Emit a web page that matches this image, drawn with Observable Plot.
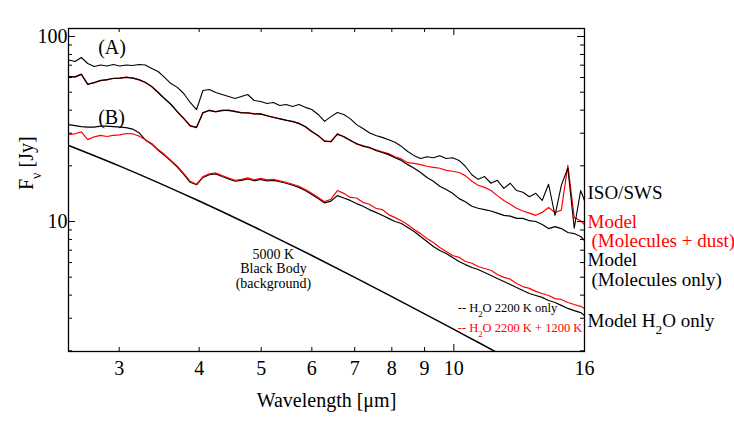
<!DOCTYPE html>
<html><head><meta charset="utf-8">
<script src="https://cdn.jsdelivr.net/npm/d3@7"></script>
<script src="https://cdn.jsdelivr.net/npm/@observablehq/plot@0.6"></script>
<style>body{margin:0;background:#fff;}</style>
</head><body><div id="chart"></div>
<script>
// Wavelength grid (μm)
const wavelength = [2.500,2.559,2.618,2.679,2.742,2.805,2.871,2.938,3.006,3.076,
 3.148,3.221,3.296,3.373,3.451,3.532,3.614,3.698,3.784,3.873,
 3.963,4.055,4.150,4.246,4.345,4.446,4.550,4.656,4.764,4.875,
 4.989,5.105,5.224,5.346,5.470,5.598,5.728,5.861,5.998,6.138,
 6.281,6.427,6.577,6.730,6.887,7.047,7.211,7.379,7.551,7.727,
 7.907,8.091,8.279,8.472,8.670,8.871,9.078,9.290,9.506,9.727,
 9.954,10.19,10.42,10.67,10.91,11.17,11.43,11.69,11.97,12.25,
 12.53,12.82,13.12,13.43,13.74,14.06,14.39,14.72,15.07,15.42,
 15.78,16.0];

// (A) ISO/SWS observed spectrum (Jy)
const isoSws = [74.7,73.3,77.0,71.5,68.8,70.1,69.3,70.6,69.3,70.1,
 69.7,70.6,70.1,67.1,64.7,60.1,55.7,53.1,49.2,44.0,
 40.3,51.1,51.7,49.8,48.6,47.4,46.2,47.4,48.6,45.1,
 44.5,43.4,44.0,42.4,42.9,41.9,42.9,41.4,40.3,37.9,
 34.8,36.9,38.8,37.9,36.0,33.4,31.8,30.2,29.2,28.5,
 27.7,26.8,25.5,23.9,22.7,21.9,22.4,22.1,22.7,21.9,
 22.1,21.4,19.9,17.9,16.9,17.5,16.1,16.7,15.1,16.1,
 14.7,14.4,13.6,14.2,13.0,15.9,10.8,15.7,19.4,9.2,
 14.7,13.0];

// (A) Model (Molecules + dust) - red
const modelDust = [60.9,60.3,62.6,55.3,56.2,57.9,58.3,59.5,59.4,60.3,
 59.8,58.3,56.6,53.5,50.0,46.0,43.1,39.1,36.2,32.8,
 32.4,38.6,40.0,39.1,40.0,39.8,39.5,38.6,38.8,38.1,
 38.3,37.2,36.7,35.8,35.4,34.6,34.0,32.4,30.8,29.0,
 27.3,26.9,29.9,28.6,27.6,26.2,25.7,25.0,24.4,23.8,
 23.3,22.4,21.8,20.8,20.6,20.3,19.9,19.6,19.4,18.9,
 18.7,18.4,17.7,16.5,15.7,15.3,14.7,13.8,13.0,12.4,
 11.8,11.4,11.1,10.8,11.2,11.9,11.2,11.5,20.1,10.5,
 10.1,9.63];

// (A) Model (Molecules only) - black
const modelMolecules = [60.8,60.5,62.4,55.1,56.4,57.8,58.5,59.3,59.6,60.1,
 59.6,58.5,56.4,53.7,49.8,46.2,42.9,39.3,36.0,33.0,
 32.2,38.8,39.8,39.3,39.8,40.0,39.3,38.8,38.6,38.3,
 38.1,37.4,36.5,36.0,35.2,34.8,33.8,32.6,30.6,29.2,
 27.1,27.1,29.6,28.8,27.4,26.4,25.5,25.2,24.2,23.6,
 23.0,22.1,21.4,20.3,19.4,18.4,17.3,16.5,15.5,14.9,
 14.2,13.3,12.8,12.1,11.8,11.6,11.4,11.1,10.8,10.7,
 10.4,10.4,10.1,10.0,9.63,9.16,9.39,9.16,8.72,8.61,
 8.30,7.89];

// (B) H2O 2200 K only - black
const h2o2200 = [33.4,33.0,32.6,32.4,32.4,32.8,32.8,32.6,32.4,32.2,
 31.6,30.2,27.6,26.2,24.3,22.8,21.2,19.7,18.0,16.3,
 15.8,17.3,17.9,18.1,17.5,17.0,16.5,16.7,17.0,16.6,
 16.9,16.6,16.7,16.4,16.1,15.7,15.3,14.7,14.0,13.3,
 12.6,12.9,13.8,13.4,13.0,12.5,12.1,11.6,11.2,10.8,
 10.4,10.0,9.75,9.27,8.83,8.30,7.80,7.33,6.97,6.72,
 6.39,6.08,5.85,5.64,5.50,5.30,5.11,4.92,4.74,4.57,
 4.40,4.24,4.08,3.98,3.89,3.74,3.65,3.52,3.39,3.30,
 3.22,3.10];

// (B) H2O 2200 K + 1200 K - red
const h2o2200_1200 = [29.6,29.8,30.5,27.7,28.7,29.2,28.8,29.2,29.4,29.9,
 29.8,29.0,27.7,26.4,24.5,23.0,21.4,19.9,18.2,16.5,
 15.9,17.5,18.1,18.3,17.7,17.2,16.7,16.9,17.2,16.8,
 17.1,16.8,16.9,16.6,16.3,15.9,15.5,14.9,14.2,13.5,
 12.8,13.2,14.7,14.2,13.5,13.4,12.7,12.4,11.8,11.6,
 10.9,10.5,10.1,9.6,9.05,8.6,8.10,7.7,7.24,6.88,
 6.55,6.4,6.08,5.95,5.71,5.57,5.45,5.17,4.99,4.88,
 4.62,4.45,4.35,4.19,4.08,3.98,3.83,3.79,3.65,3.56,
 3.48,3.39];

// 5000 K black body (background)
const bbWavelength = [2.5,3,4,5,6,7,8,9,10,11,12];
const bbFlux = [25.8,20.0,12.9,8.95,6.55,4.99,3.93,3.17,2.61,2.19,1.86];

// Axis ticks
const xTickLabels = [3,4,5,6,7,8,9,10,16];
const xMinorTicks = [3,4,5,6,7,8,9];
const xMajorTicks = [10];
const yTickLabels = [10,100];
const yMinorTicks = [2,3,4,5,6,7,8,9,20,30,40,50,60,70,80,90];
const yMajorTicks = [10,100];

const W = 734, H = 436, mL = 68, mR = 150, mT = 28, mB = 85;
const plotW = W - mL - mR, plotH = H - mT - mB;
const serif = "'Liberation Serif', 'Times New Roman', serif";
const big = 20;
const side = 19;

const rows = (arr) => wavelength.map((w, i) => ({w, f: arr[i]})).filter(d => d.f != null);
const bbRows = bbWavelength.map((w, i) => ({w, f: bbFlux[i]}));

const rightLabels = [
  {t: "ISO/SWS", f: 14.35, c: "black"},
  {t: "Model", f: 10.0, c: "red"},
  {t: "(Molecules + dust)", f: 7.89, c: "red"},
  {t: "Model", f: 6.23, c: "black"},
  {t: "(Molecules only)", f: 4.86, c: "black"},
  {t: "Model H_2O only", f: 2.92, c: "black"}
];

const chart = Plot.plot({
  width: W, height: H,
  marginLeft: mL, marginRight: mR, marginTop: mT, marginBottom: mB,
  x: {type: "log", domain: [2.5, 16], axis: null},
  y: {type: "log", domain: [1.983, 110.5], axis: null},
  style: {fontFamily: serif, background: "white", color: "black", overflow: "visible"},
  marks: [
    Plot.line(bbRows, {x: "w", y: "f", stroke: "black", strokeWidth: 1.5, clip: true, curve: "monotone-x"}),
    Plot.line(rows(h2o2200), {x: "w", y: "f", stroke: "black", strokeWidth: 1.2}),
    Plot.line(rows(h2o2200_1200), {x: "w", y: "f", stroke: "#ff0000", strokeWidth: 1.2}),
    Plot.line(rows(modelDust), {x: "w", y: "f", stroke: "#ff0000", strokeWidth: 1.2}),
    Plot.line(rows(modelMolecules), {x: "w", y: "f", stroke: "black", strokeWidth: 1.2}),
    Plot.line(rows(isoSws), {x: "w", y: "f", stroke: "black", strokeWidth: 1.1}),
    Plot.frame({stroke: "black", strokeWidth: 1.3}),
    // inward ticks
    Plot.tickX(xMinorTicks, {x: d => d, insetTop: plotH - 4, stroke: "black"}),
    Plot.tickX(xMinorTicks, {x: d => d, insetBottom: plotH - 4, stroke: "black"}),
    Plot.tickX(xMajorTicks, {x: d => d, insetTop: plotH - 7, stroke: "black"}),
    Plot.tickX(xMajorTicks, {x: d => d, insetBottom: plotH - 7, stroke: "black"}),
    Plot.tickY(yMinorTicks, {y: d => d, insetRight: plotW - 4, stroke: "black"}),
    Plot.tickY(yMinorTicks, {y: d => d, insetLeft: plotW - 4, stroke: "black"}),
    Plot.tickY(yMajorTicks, {y: d => d, insetRight: plotW - 7, stroke: "black"}),
    Plot.tickY(yMajorTicks, {y: d => d, insetLeft: plotW - 7, stroke: "black"}),
    // tick labels
    Plot.text(xTickLabels, {x: d => d, text: d => String(d), frameAnchor: "bottom", dy: 23, fontSize: big, fill: "black"}),
    Plot.text(yTickLabels, {y: d => d, text: d => String(d), frameAnchor: "left", dx: -1, textAnchor: "end", fontSize: big, fill: "black"}),
    // axis titles
    Plot.text(["Wavelength [μm]"], {frameAnchor: "bottom", dy: 55, fontSize: big, fill: "black"}),
    Plot.text(["F_ν [Jy]"], {frameAnchor: "left", dx: -42, rotate: -90, fontSize: big, fill: "black"}),
    // panel letters
    Plot.text([{t: "(A)", f: 87.2}, {t: "(B)", f: 36.5}], {x: () => 2.782, y: "f", text: "t", textAnchor: "start", fontSize: big, fill: "black"}),
    // black body label
    Plot.text([{t: "5000 K\nBlack Body\n(background)"}], {x: () => 5.225, y: () => 5.57, text: "t", fontSize: 14, lineHeight: 1.05, fill: "black"}),
    // small legend
    Plot.text([{t: "-- H_2O 2200 K only", f: 3.39}], {x: () => 10.14, y: "f", text: "t", textAnchor: "start", fontSize: 12.5, fill: "black"}),
    Plot.text([{t: "-- H_2O 2200 K + 1200 K", f: 2.67}], {x: () => 10.14, y: "f", text: "t", textAnchor: "start", fontSize: 12.5, fill: "#ff0000"}),
    // right-hand labels
    Plot.text(rightLabels.filter(d => d.c === "black"), {x: () => 16, y: "f", text: "t", textAnchor: "start", fontSize: side, fill: "black", dx: 3}),
    Plot.text(rightLabels.filter(d => d.c === "red"), {x: () => 16, y: "f", text: "t", textAnchor: "start", fontSize: side, fill: "#ff0000", dx: 3})
  ]
});

// indent the parenthesised second lines
chart.querySelectorAll("text").forEach(t => {
  if (t.textContent.startsWith("(Molecules")) t.setAttribute("x", +t.getAttribute("x") + 4);
});

// subscripts: "_x" -> subscript x
const ns = "http://www.w3.org/2000/svg";
chart.querySelectorAll("text").forEach(t => {
  if (t.querySelector("tspan")) return;
  const s = t.textContent;
  if (!s.includes("_")) return;
  t.textContent = "";
  s.split(/_(.)/).forEach((p, i) => {
    const ts = document.createElementNS(ns, "tspan");
    ts.textContent = p;
    if (i % 2 === 1) { ts.setAttribute("baseline-shift", "sub"); ts.setAttribute("font-size", "70%"); }
    t.appendChild(ts);
  });
});

document.getElementById("chart").appendChild(chart);
</script>
</body></html>
